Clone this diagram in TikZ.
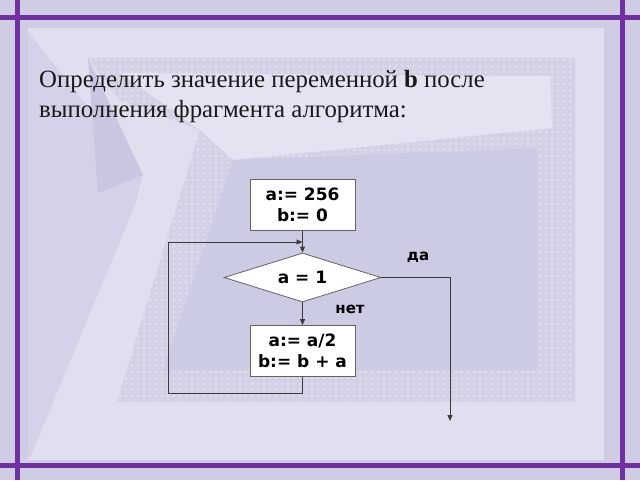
\documentclass[tikz,border=0pt]{standalone}
\usepackage{fontspec}
\setmainfont{Liberation Serif}
\newfontfamily\flowfont[BoldFont={DejaVu Sans Bold}]{DejaVu Sans}
\usetikzlibrary{shapes.geometric,arrows.meta,patterns.meta}
\definecolor{bgcol}{RGB}{207,205,228}
\definecolor{panelcol}{RGB}{224,223,240}
\definecolor{midcol}{RGB}{212,210,232}
\definecolor{dartcol}{RGB}{200,198,224}
\definecolor{bandcol}{RGB}{210,209,229}
\definecolor{papercol}{RGB}{228,227,242}
\definecolor{innercol}{RGB}{204,203,228}
\definecolor{framecol}{RGB}{112,48,160}
\definecolor{linecol}{RGB}{60,60,60}
\tikzset{
  frameline/.style={draw=framecol, line width=5pt},
  procbox/.style={draw=linecol!80, fill=white, line width=0.8pt, minimum width=105pt, minimum height=51pt, inner sep=0pt, align=center, font=\flowfont\bfseries\fontsize{17}{20.5}\selectfont},
  decbox/.style={diamond, aspect=3.2, draw=linecol!80, fill=white, line width=0.8pt, minimum width=157pt, minimum height=49pt, inner sep=0pt, font=\flowfont\bfseries\fontsize{17}{20}\selectfont},
  lbl/.style={font=\flowfont\bfseries\fontsize{15}{17}\selectfont, inner sep=0pt},
  conn/.style={draw=linecol, line width=0.9pt},
  arr/.style={conn, -{Triangle[length=6pt,width=5pt]}},
  title/.style={anchor=base west, align=left, inner sep=0pt, font=\fontsize{24.8}{30}\selectfont, text=black!90}
}
\begin{document}
\begin{tikzpicture}[x=1pt,y=-1pt]
\useasboundingbox (0,0) rectangle (640,480);
% background
\fill[bgcol] (0,0) rectangle (640,480);
\fill[panelcol] (28,28) rectangle (604,460);
\fill[midcol] (28,32) -- (143,175) -- (135,205) -- (30,458) -- (28,458) -- cycle;
\fill[bandcol] (88,58) -- (575,58) -- (575,402) -- (117,402) -- (200,130) -- (120,100) -- cycle;
\fill[pattern={Dots[distance=6pt,radius=0.8pt]}, pattern color=white!70!bandcol] (88,58) -- (575,58) -- (575,402) -- (117,402) -- (200,130) -- (120,100) -- cycle;
\fill[dartcol] (88,58) -- (143,175) -- (98,193) -- cycle;
\fill[papercol] (120,73) -- (550,76) -- (552,128) -- (233,160) -- (200,130) -- cycle;
\fill[innercol] (233,160) -- (537,148) -- (537,370) -- (163,370) -- cycle;
% frame lines
\draw[frameline] (17.5,0) -- (17.5,480);
\draw[frameline] (622.5,0) -- (622.5,480);
\draw[frameline] (0,17.5) -- (640,17.5);
\draw[frameline] (0,465.5) -- (640,465.5);
% title
\node[title] (ttl) at (39,117) {Определить значение переменной \textbf{b} после\\выполнения фрагмента алгоритма:};
% flowchart
\node[procbox] (init) at (302.5,205) {a:= 256\\b:= 0};
\node[decbox] (cond) at (302.5,277.5) {a = 1};
\node[procbox] (body) at (302.5,351) {a:= a/2\\b:= b + a};
\node[lbl] (yes) at (418,257) {да};
\node[lbl] (no) at (350,309) {нет};
\coordinate (join) at (302.5,242);
\coordinate (lb) at (302.5,393);
\coordinate (ll) at (168,393);
\coordinate (lt) at (168,242);
\coordinate (rt) at (450,277.5);
\coordinate (rb) at (450,421);
\draw[arr] (init.south) -- (cond.north);
\draw[arr] (cond.south) -- (body.north);
\draw[arr] (body.south) -- (lb) -- (ll) -- (lt) -- (join);
\draw[arr] (cond.east) -- (rt) -- (rb);
\end{tikzpicture}
\end{document}
